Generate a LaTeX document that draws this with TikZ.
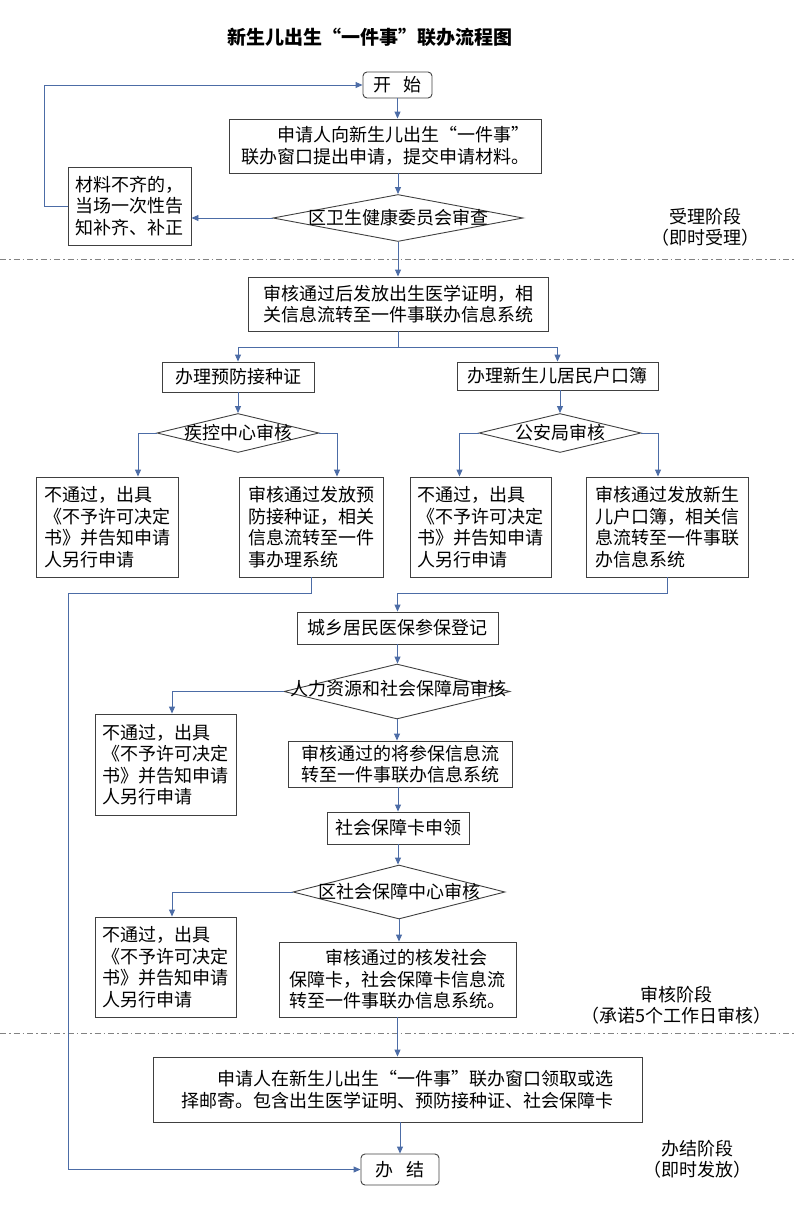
\documentclass[tikz,border=0pt]{standalone}
\usepackage{fontspec}
\setmainfont{Noto Sans CJK SC}
\usetikzlibrary{shapes.geometric,arrows.meta}
\definecolor{linkblue}{RGB}{76,108,166}
\definecolor{boxgray}{RGB}{64,64,64}
\definecolor{splitgray}{RGB}{130,130,130}

\begin{document}
\begin{tikzpicture}[
    x=1pt, y=-1pt,
    font=\fontsize{18}{21.5}\selectfont,
    flowbox/.style={draw=boxgray, line width=0.9pt, inner sep=0pt, align=left},
    roundbox/.style={flowbox, rounded corners=4pt, align=center},
    decide/.style={draw=boxgray, line width=0.9pt, diamond, inner sep=0pt},
    link/.style={draw=linkblue, line width=0.9pt, -{Triangle[length=7pt,width=6pt]}},
    stage/.style={align=center},
    split/.style={draw=splitgray, line width=0.8pt, dash pattern=on 6pt off 3pt on 1.5pt off 3pt}
]
\useasboundingbox (0,0) rectangle (794,1210);

\node[font=\fontsize{19}{23}\selectfont\bfseries] (title) at (370,37) {新生儿出生“一件事”联办流程图};

\node[roundbox, minimum width=69pt, minimum height=26pt] (start) at (397.5,85) {开\hspace{0.7em}始};
\node[flowbox, minimum width=312pt, minimum height=54pt] (apply) at (385,146)
    {\hspace{2em}申请人向新生儿出生“一件事”\\联办窗口提出申请，提交申请材料。};
\node[decide, minimum width=250pt, minimum height=47pt] (check1) at (398,218) {};
\node (check1t) at (check1) {区卫生健康委员会审查};
\node[flowbox, minimum width=123pt, minimum height=78pt] (lack) at (129.5,206)
    {材料不齐的，\\当场一次性告\\知补齐、补正};
\node[stage] (stage1) at (705,227) {受理阶段\\（即时受理）};

\node[flowbox, minimum width=300pt, minimum height=54pt] (cert) at (398,304)
    {审核通过后发放出生医学证明，相\\关信息流转至一件事联办信息系统};
\node[flowbox, minimum width=152pt, minimum height=30pt] (vacc) at (238,377) {办理预防接种证};
\node[flowbox, minimum width=201pt, minimum height=28pt] (hukou) at (557.5,376) {办理新生儿居民户口簿};
\node[decide, minimum width=162pt, minimum height=39pt] (cdc) at (238,433) {};
\node (cdct) at (cdc) {疾控中心审核};
\node[decide, minimum width=162pt, minimum height=39pt] (police) at (560,433) {};
\node (policet) at (police) {公安局审核};
\node[flowbox, minimum width=142pt, minimum height=100pt] (vaccno) at (107,527)
    {不通过，出具\\《不予许可决定\\书》并告知申请\\人另行申请};
\node[flowbox, minimum width=144pt, minimum height=100pt] (vaccok) at (311,527)
    {审核通过发放预\\防接种证，相关\\信息流转至一件\\事办理系统};
\node[flowbox, minimum width=141pt, minimum height=100pt] (hukouno) at (480.5,527)
    {不通过，出具\\《不予许可决定\\书》并告知申请\\人另行申请};
\node[flowbox, minimum width=162pt, minimum height=100pt] (hukouok) at (667,527)
    {审核通过发放新生\\儿户口簿，相关信\\息流转至一件事联\\办信息系统};

\node[flowbox, minimum width=201pt, minimum height=32pt] (insure) at (397.5,628) {城乡居民医保参保登记};
\node[decide, minimum width=226pt, minimum height=55pt] (hr) at (397,691.5) {};
\node (hrt) at (398,689) {人力资源和社会保障局审核};
\node[flowbox, minimum width=141pt, minimum height=101pt] (hrno) at (165.5,764.5)
    {不通过，出具\\《不予许可决定\\书》并告知申请\\人另行申请};
\node[flowbox, minimum width=224pt, minimum height=46pt] (hrok) at (400,764)
    {审核通过的将参保信息流\\转至一件事联办信息系统};
\node[flowbox, minimum width=142pt, minimum height=32pt] (card) at (398,828) {社会保障卡申领};
\node[decide, minimum width=212pt, minimum height=54pt] (ss) at (399,892) {};
\node (sst) at (ss) {区社会保障中心审核};
\node[flowbox, minimum width=141pt, minimum height=100pt] (ssno) at (165.5,967)
    {不通过，出具\\《不予许可决定\\书》并告知申请\\人另行申请};
\node[flowbox, minimum width=237pt, minimum height=75pt] (ssok) at (397.5,979.5)
    {\hspace{2em}审核通过的核发社会\\保障卡，社会保障卡信息流\\转至一件事联办信息系统。};
\node[stage] (stage2) at (676,1005) {审核阶段\\（承诺5个工作日审核）};

\node[flowbox, minimum width=489pt, minimum height=65pt] (pickup) at (397.5,1089.5)
    {\hspace{2em}申请人在新生儿出生“一件事”联办窗口领取或选\\择邮寄。包含出生医学证明、预防接种证、社会保障卡};
\node[roundbox, minimum width=78pt, minimum height=31pt] (finish) at (400,1169.5) {办\hspace{0.7em}结};
\node[stage] (stage3) at (697,1159) {办结阶段\\（即时发放）};

\draw[split] (0,259) -- (794,259);
\draw[split] (0,1033) -- (794,1033);

\draw[link] (start.south) -- (start.south |- apply.north);
\draw[link] (check1.north |- apply.south) -- (check1.north);
\draw[link] (check1.west) -- (check1.west -| lack.east);
\draw[link] (lack.west) -- ++(-23,0) |- (start.west);
\draw[link] (check1.south) -- (check1.south |- cert.north);
\draw[draw=linkblue, line width=0.9pt] (cert.south) -- ++(0,16) coordinate (fork);
\draw[link] (fork) -| (vacc.north);
\draw[link] (fork) -| (hukou.north);
\draw[link] (vacc.south) -- (cdc.north);
\draw[link] (police.north |- hukou.south) -- (police.north);
\draw[link] (cdc.west) -| ([xshift=31pt]vaccno.north);
\draw[link] (cdc.east) -| ([xshift=26pt]vaccok.north);
\draw[link] (police.west) -| ([xshift=-21pt]hukouno.north);
\draw[link] (police.east) -| ([xshift=-9pt]hukouok.north);
\coordinate (rail) at (68,593);
\draw[link] (vaccok.south) |- (rail) |- (finish.west);
\draw[link] (hukouok.south) |- (insure.north |- rail) -- (insure.north);
\draw[link] (insure.south) -- (insure.south |- hr.north);
\draw[link] (hr.west) -| ([xshift=6.5pt]hrno.north);
\draw[link] (hr.south) -- (hr.south |- hrok.north);
\draw[link] (card.north |- hrok.south) -- (card.north);
\draw[link] (card.south) -- (card.south |- ss.north);
\draw[link] (ss.west) -| ([xshift=6.5pt]ssno.north);
\draw[link] (ss.south) -- (ss.south |- ssok.north);
\draw[link] (ssok.south) -- (ssok.south |- pickup.north);
\draw[link] (finish.north |- pickup.south) -- (finish.north);
\end{tikzpicture}
\end{document}
